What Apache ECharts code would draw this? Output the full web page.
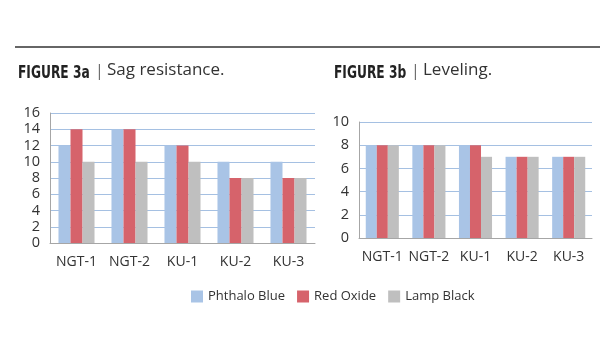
<!DOCTYPE html>
<html>
<head>
<meta charset="utf-8">
<script src="https://cdn.jsdelivr.net/npm/echarts@6/dist/echarts.min.js"></script>
<style>
html, body { margin: 0; padding: 0; background: #fff; }
#main { width: 615px; height: 350px; }
</style>
</head>
<body>
<div id="main"></div>
<script>
var categories = ['NGT-1', 'NGT-2', 'KU-1', 'KU-2', 'KU-3'];
var seriesNames = ['Phthalo Blue', 'Red Oxide', 'Lamp Black'];
// Figure 3a 抗流挂
var sagBlue = [12, 14, 12, 10, 10];
var sagRed = [14, 14, 12, 8, 8];
var sagBlack = [10, 10, 10, 8, 8];
// Figure 3b 流平
var levBlue = [8, 8, 8, 7, 7];
var levRed = [8, 8, 8, 7, 7];
var levBlack = [8, 8, 7, 7, 7];

var colors = ['#a9c4e6', '#d6636b', '#bfbfbf'];
var font = "'Open Sans', 'Noto Sans', sans-serif";
var boldFont = "'Liberation Sans Narrow', 'DejaVu Sans Condensed', sans-serif";

var chart = echarts.init(document.getElementById('main'));

function yAxis(gridIndex, max) {
    return {
        type: 'value', gridIndex: gridIndex, min: 0, max: max, interval: 2,
        axisLine: {show: true, lineStyle: {color: '#a6a6a6'}},
        axisTick: {show: false},
        axisLabel: {color: '#333', fontSize: 14.5, fontFamily: font, margin: 10},
        splitLine: {lineStyle: {color: '#a5c0e2', width: 1.2}}
    };
}
function xAxis(gridIndex) {
    return {
        type: 'category', gridIndex: gridIndex, data: categories,
        axisLine: {lineStyle: {color: '#a6a6a6'}},
        axisTick: {show: false},
        axisLabel: {color: '#333', fontSize: 14, fontFamily: font, margin: 12, interval: 0}
    };
}
function bar(name, data, idx, color, gap) {
    return {
        name: name, type: 'bar', data: data, xAxisIndex: idx, yAxisIndex: idx,
        barGap: 0, barCategoryGap: gap,
        itemStyle: {color: color},
        emphasis: {disabled: true}
    };
}
//标题: 粗体窄字 + 竖线 + 说明
function titleParts(x, fig, text) {
    return [{
        type: 'text', x: x, y: 65, scaleX: 0.8,
        style: {text: fig, font: 'bold 17px ' + boldFont, fill: '#222'}
    }, {
        type: 'text', x: x + 77, y: 63,
        style: {text: '|', font: '16px ' + font, fill: '#666'}
    }, {
        type: 'text', x: x + 89, y: 62,
        style: {text: text, font: '17px ' + font, fill: '#333'}
    }];
}

var option = {
    animation: false,
    graphic: [{
        type: 'line', shape: {x1: 15, y1: 47, x2: 600, y2: 47},
        style: {stroke: '#333', lineWidth: 1.5}
    }].concat(titleParts(18, 'FIGURE 3a', 'Sag resistance.'), titleParts(334, 'FIGURE 3b', 'Leveling.')),
    legend: {
        data: seriesNames, left: 186, top: 285,
        itemWidth: 12, itemHeight: 12, itemGap: 12,
        icon: 'rect',
        textStyle: {color: '#333', fontSize: 13, fontFamily: font}
    },
    grid: [
        {left: 50, right: 300, top: 113, bottom: 107},
        {left: 359, right: 23, top: 122, bottom: 112}
    ],
    xAxis: [xAxis(0), xAxis(1)],
    yAxis: [yAxis(0, 16), yAxis(1, 10)],
    series: [
        bar(seriesNames[0], sagBlue, 0, colors[0], '32%'),
        bar(seriesNames[1], sagRed, 0, colors[1], '32%'),
        bar(seriesNames[2], sagBlack, 0, colors[2], '32%'),
        bar(seriesNames[0], levBlue, 1, colors[0], '29%'),
        bar(seriesNames[1], levRed, 1, colors[1], '29%'),
        bar(seriesNames[2], levBlack, 1, colors[2], '29%')
    ]
};

chart.setOption(option);
</script>
</body>
</html>
